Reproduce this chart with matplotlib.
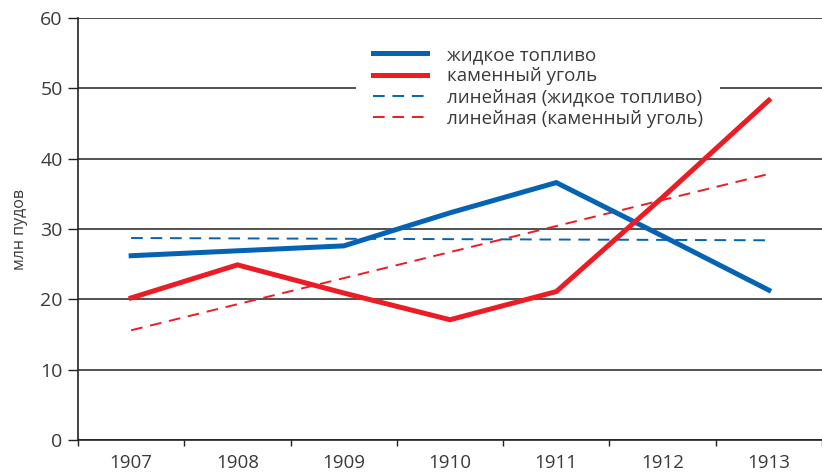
import numpy as np
import matplotlib
matplotlib.use('Agg')
import matplotlib.pyplot as plt

plt.rcParams['font.family'] = ['Open Sans', 'DejaVu Sans']

years = ['1907', '1908', '1909', '1910', '1911', '1912', '1913']
oil = [26.2, 26.9, 27.6, 32.3, 36.6, 29.0, 21.3]     # жидкое топливо
coal = [20.2, 24.9, 20.9, 17.1, 21.1, 34.5, 48.3]    # каменный уголь
yticks = [0, 10, 20, 30, 40, 50, 60]

blue = '#0563b4'
red = '#ec1c24'
txt = '#3a3a3a'

fig = plt.figure(figsize=(8.22, 4.74), dpi=100)
ax = fig.add_axes([78/822, 1-440/474, 1-78/822, 422/474])

x = np.arange(len(years))
# линии тренда (линейная аппроксимация)
k_oil = np.polyfit(x, oil, 1)
k_coal = np.polyfit(x, coal, 1)

l1, = ax.plot(x, oil, color=blue, lw=3.6, solid_joinstyle='miter', zorder=4)
l2, = ax.plot(x, coal, color=red, lw=3.6, solid_joinstyle='miter', zorder=4)
l3, = ax.plot(x, np.polyval(k_oil, x), color=blue, lw=1.4, ls=(0, (6, 4)), zorder=3)
l4, = ax.plot(x, np.polyval(k_coal, x), color=red, lw=1.4, ls=(0, (6, 4)), zorder=3)

ax.set_xlim(-0.5, 6.5)
ax.set_ylim(0, 60)
ax.set_yticks(yticks)
ax.set_yticklabels([str(v) for v in yticks], fontsize=14, color=txt)
ax.set_xticks(x)
ax.set_xticklabels(years, fontsize=13.5, color=txt)
ax.set_xticks(np.arange(-0.5, 7, 1), minor=True)
ax.tick_params(axis='x', which='major', length=0, pad=10)
ax.tick_params(axis='x', which='minor', length=4, width=1, color='#222')
ax.tick_params(axis='y', length=7, width=1, color='#222', pad=4)

ax.grid(axis='y', color='#333', lw=1.2, zorder=1)
ax.set_axisbelow(True)
for s in ['top', 'right']:
    ax.spines[s].set_visible(False)
for s in ['left', 'bottom']:
    ax.spines[s].set_color('#222')
    ax.spines[s].set_linewidth(1.2)

ax.set_ylabel('млн пудов', fontsize=11.5, color=txt, labelpad=9)

leg = ax.legend([l1, l2, l3, l4],
                ['жидкое топливо', 'каменный уголь',
                 'линейная (жидкое топливо)', 'линейная (каменный уголь)'],
                loc='upper left', bbox_to_anchor=(356/822, 1-29/474),
                bbox_transform=fig.transFigure, borderaxespad=0,
                frameon=True, fancybox=False, edgecolor='none',
                facecolor='white', framealpha=1, fontsize=13.5,
                handlelength=2.9, handletextpad=1.05, labelspacing=0.18,
                borderpad=0.9)
for t in leg.get_texts():
    t.set_color(txt)
# легенда перекрывает сетку, но не основные линии
leg.set_zorder(3.5)

fig.savefig('out.png', dpi=100)
